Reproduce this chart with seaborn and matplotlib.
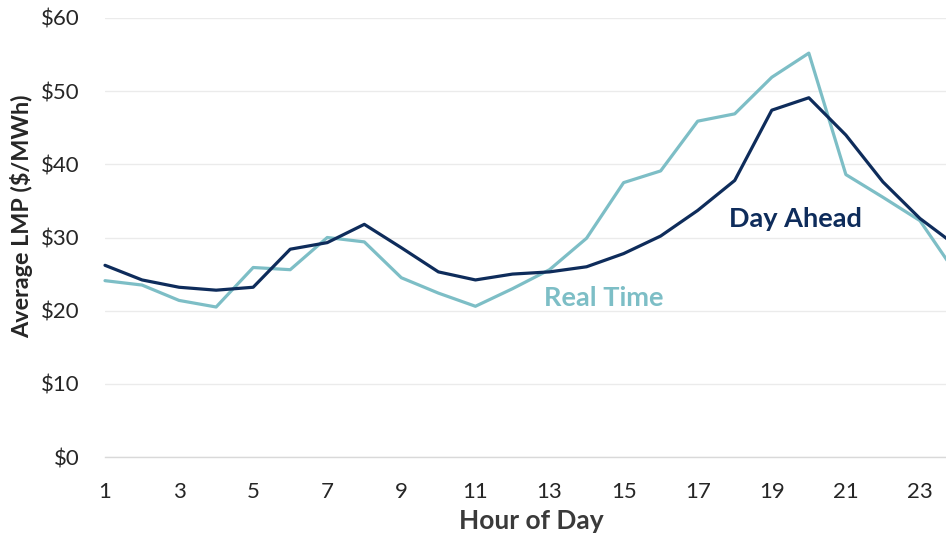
import numpy as np
import pandas as pd
import matplotlib
matplotlib.use("Agg")
import matplotlib.pyplot as plt
import seaborn as sns

# Average hourly LMP ($/MWh)
hours = list(range(1, 25))
day_ahead = [26.2, 24.2, 23.2, 22.8, 23.2, 28.4, 29.3, 31.8, 28.6, 25.3,
             24.2, 25.0, 25.3, 26.0, 27.8, 30.2, 33.7, 37.8, 47.4, 49.1,
             44.0, 37.6, 32.6, 28.8]
real_time = [24.1, 23.5, 21.4, 20.5, 25.9, 25.6, 30.0, 29.4, 24.5, 22.4,
             20.6, 23.0, 25.6, 29.9, 37.5, 39.1, 45.9, 46.9, 51.9, 55.2,
             38.6, 35.5, 32.3, 24.9]
series_names = ["Day Ahead", "Real Time"]
y_ticks = [0, 10, 20, 30, 40, 50, 60]
x_ticks = list(range(1, 24, 2))

navy = "#0e2c5b"
teal = "#7dbec6"

df = pd.concat([
    pd.DataFrame({"Hour": hours, "LMP": day_ahead, "Series": series_names[0]}),
    pd.DataFrame({"Hour": hours, "LMP": real_time, "Series": series_names[1]}),
])

sns.set_theme(style="white")
plt.rcParams["font.family"] = ["Lato", "DejaVu Sans"]

fig = plt.figure(figsize=(9.46, 5.38), dpi=100)
ax = fig.add_axes([105 / 946, 1 - 457 / 538, 852 / 946, 439 / 538])

sns.lineplot(data=df, x="Hour", y="LMP", hue="Series",
             palette={series_names[0]: navy, series_names[1]: teal},
             hue_order=[series_names[1], series_names[0]],
             linewidth=2.3, legend=False, ax=ax, clip_on=False)

ax.set_xlim(1, 24)
ax.set_ylim(0, 60)
ax.set_yticks(y_ticks)
ax.set_yticklabels([f"${v}" for v in y_ticks])
ax.set_xticks(x_ticks)
ax.set_xticklabels([str(v) for v in x_ticks])

ax.grid(axis="y", color="#ebebeb", linewidth=1.0)
ax.set_axisbelow(True)
for side in ["top", "right", "left"]:
    ax.spines[side].set_visible(False)
ax.spines["bottom"].set_color("#d9d9d9")
ax.spines["bottom"].set_linewidth(1.0)

ax.tick_params(axis="x", which="major", length=6, width=1, color="#d9d9d9",
               direction="out", pad=12, labelsize=16, labelcolor="#262626")
ax.tick_params(axis="y", length=0, pad=18, labelsize=16, labelcolor="#262626")
for lbl in ax.get_yticklabels():
    lbl.set_horizontalalignment("right")

ax.set_xlabel("Hour of Day", fontsize=19, fontweight="bold", color="#3a3a3a", labelpad=5)
ax.set_ylabel("Average LMP ($/MWh)", fontsize=16.8, fontweight="bold", color="#262626")
ax.yaxis.set_label_coords(-0.0974, 0.549)
ax.yaxis.label.set_verticalalignment("center")

ax.text(19.65, 32.5, "Day Ahead", fontsize=19.5, fontweight="bold", color=navy,
        ha="center", va="center")
ax.text(14.47, 21.7, "Real Time", fontsize=19.5, fontweight="bold", color=teal,
        ha="center", va="center")

fig.savefig("out.png", dpi=100)
